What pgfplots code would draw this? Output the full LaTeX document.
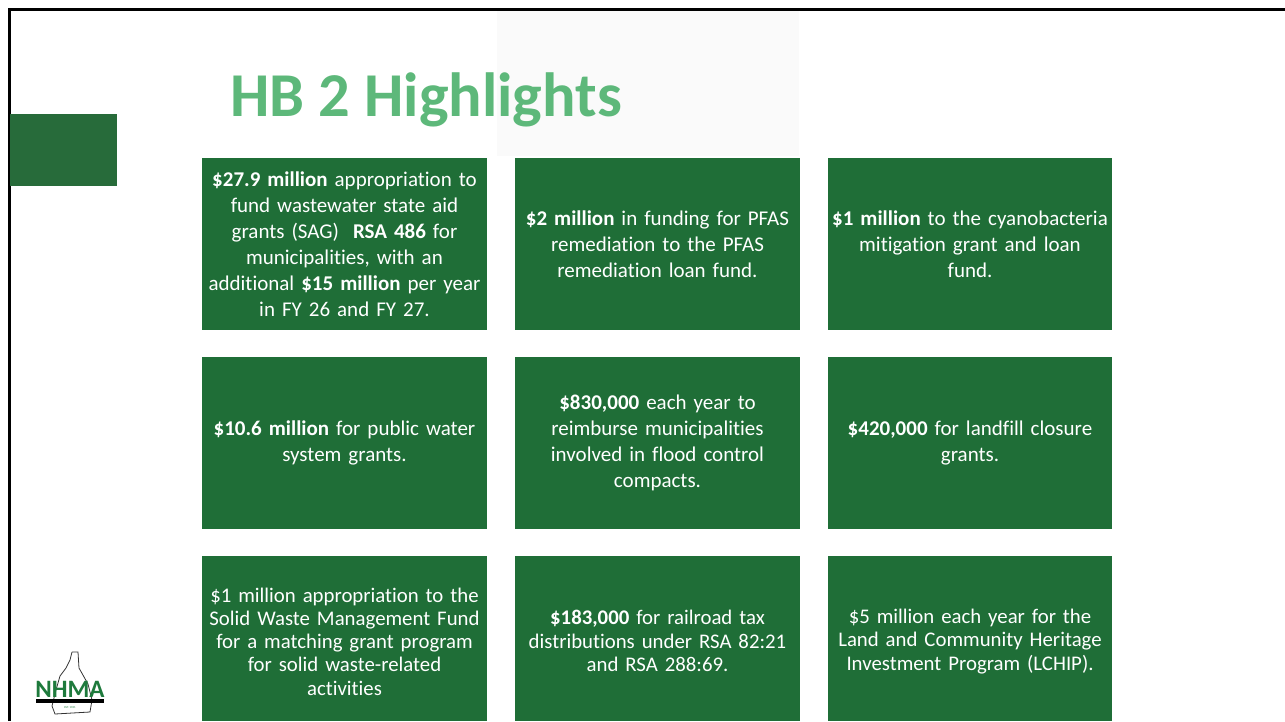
\documentclass[border=0pt]{standalone}
\usepackage{pgfplots}
\pgfplotsset{compat=1.18}
\usepackage{fontspec}
\setmainfont{Carlito}[Ligatures=NoCommon]
\definecolor{boxgreen}{HTML}{1F6E37}
\definecolor{titlegreen}{HTML}{5DB87A}
\definecolor{sidegreen}{HTML}{276B3A}
\definecolor{lightpanel}{HTML}{FAFAFA}
\definecolor{logogreen}{HTML}{1E7A3C}
\begin{document}
\begin{tikzpicture}
\begin{axis}[
  at={(0,0)}, anchor=south west,
  scale only axis, width=1285pt, height=721pt,
  xmin=0, xmax=1285, ymin=0, ymax=721, y dir=reverse,
  axis lines=none, clip=true,
]
% light panel
\addplot[fill=lightpanel, draw=none] coordinates {(497,10)(799,10)(799,156)(497,156)} -- cycle;
% frame
\addplot[draw=black, line width=3pt] coordinates {(9,721)(9,9)(1285,9)};
% side block
\addplot[fill=sidegreen, draw=none] coordinates {(10,114)(117,114)(117,186)(10,186)} -- cycle;
% boxes row 1
\addplot[fill=boxgreen, draw=none] coordinates {(202,158)(487,158)(487,330)(202,330)} -- cycle;
\addplot[fill=boxgreen, draw=none] coordinates {(515,158)(800,158)(800,330)(515,330)} -- cycle;
\addplot[fill=boxgreen, draw=none] coordinates {(828,158)(1112,158)(1112,330)(828,330)} -- cycle;
% row 2
\addplot[fill=boxgreen, draw=none] coordinates {(202,357)(487,357)(487,529)(202,529)} -- cycle;
\addplot[fill=boxgreen, draw=none] coordinates {(515,357)(800,357)(800,529)(515,529)} -- cycle;
\addplot[fill=boxgreen, draw=none] coordinates {(828,357)(1112,357)(1112,529)(828,529)} -- cycle;
% row 3
\addplot[fill=boxgreen, draw=none] coordinates {(202,556)(487,556)(487,721)(202,721)} -- cycle;
\addplot[fill=boxgreen, draw=none] coordinates {(515,556)(800,556)(800,721)(515,721)} -- cycle;
\addplot[fill=boxgreen, draw=none] coordinates {(828,556)(1112,556)(1112,721)(828,721)} -- cycle;
% logo outline (approximate state shape)
\addplot[draw=black!80, line width=0.8pt] coordinates {(72,652)(78,652)(79,668)(88,684)(92,700)(90,712)(55,714)(52,706)(56,690)(60,676)(66,668)(70,660)(72,652)};
\end{axis}
\begin{scope}[every node/.style={text=white, align=center, inner sep=0pt}]
\node[text=titlegreen, anchor=base west, font=\fontsize{62.4}{70}\selectfont\bfseries] at (230pt,721pt-117pt) {HB 2 Highlights};
\def\bf#1{\textbf{#1}}
\tikzset{bt/.style={font=\fontsize{21}{26}\selectfont, text width=285pt}}
\tikzset{bs/.style={font=\fontsize{20.8}{23.3}\selectfont, text width=285pt}}
\node[bt] at (344.5pt,721pt-244.5pt) {\bf{\$27.9 million} appropriation to\\ fund wastewater state aid\\ grants (SAG)\ \ \bf{RSA 486} for\\ municipalities, with an\\ additional \bf{\$15 million} per year\\ in FY 26 and FY 27.};
\node[bt] at (657.5pt,721pt-244pt) {\bf{\$2 million} in funding for PFAS\\ remediation to the PFAS\\ remediation loan fund.};
\node[bt] at (970pt,721pt-244pt) {\bf{\$1 million} to the cyanobacteria\\ mitigation grant and loan\\ fund.};
\node[bt] at (344.5pt,721pt-443pt) {\bf{\$10.6 million} for public water\\ system grants.};
\node[bt] at (657.5pt,721pt-443pt) {\bf{\$830,000} each year to\\ reimburse municipalities\\ involved in flood control\\ compacts.};
\node[bt] at (970pt,721pt-443pt) {\bf{\$420,000} for landfill closure\\ grants.};
\node[bs] at (344.5pt,721pt-641.5pt) {\$1 million appropriation to the\\ Solid Waste Management Fund\\ for a matching grant program\\ for solid waste-related\\ activities};
\node[bs] at (657.5pt,721pt-641pt) {\bf{\$183,000} for railroad tax\\ distributions under RSA 82:21\\ and RSA 288:69.};
\node[bs] at (970pt,721pt-641.5pt) {\$5 million each year for the\\ Land and Community Heritage\\ Investment Program (LCHIP).};
% logo text
\node[text=logogreen, anchor=base, font=\fontsize{25}{25}\selectfont\bfseries] at (70pt,721pt-697pt) {NHMA};
\fill[black] (36pt,721pt-699pt) rectangle (104pt,721pt-703pt);
\node[text=logogreen, font=\fontsize{3}{3}\selectfont] at (70pt,721pt-708pt) {EST. 1941};
\end{scope}
\pgfresetboundingbox
\useasboundingbox (0,0) rectangle (1285pt,721pt);
\end{tikzpicture}
\end{document}
